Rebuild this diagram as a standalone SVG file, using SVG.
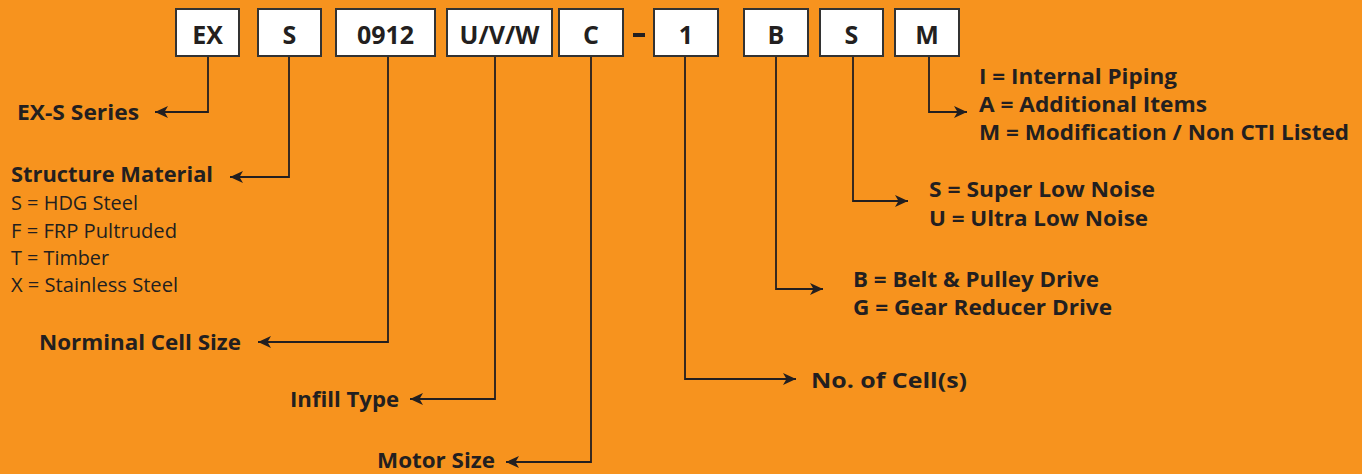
<svg xmlns="http://www.w3.org/2000/svg" width="1362" height="474" viewBox="0 0 1362 474">
<defs>
<style>
.box{fill:#fff;stroke:#333;stroke-width:2}
.bt{font-family:"Open Sans","Noto Sans",sans-serif;font-weight:700;font-size:25px;fill:#231f20;text-anchor:middle}
.lb{font-family:"Open Sans","Noto Sans",sans-serif;font-weight:700;font-size:22px;fill:#231f20}
.lr{font-family:"Open Sans","Noto Sans",sans-serif;font-weight:400;font-size:20px;fill:#231f20}
.cn{fill:none;stroke:#231f20;stroke-width:1.8;marker-end:url(#ah)}
</style>
<marker id="ah" markerUnits="userSpaceOnUse" markerWidth="14" markerHeight="12" refX="13" refY="6" orient="auto">
<path d="M0,0 L13,6 L0,12 L3.5,6 z" fill="#231f20"/>
</marker>
</defs>
<rect width="1362" height="474" fill="#f7931e"/>
<g id="box-ex"><rect class="box" x="176" y="9" width="63" height="47"/><text class="bt" x="207.5" y="44">EX</text></g>
<g id="box-s"><rect class="box" x="258" y="9" width="63" height="47"/><text class="bt" x="289.5" y="44">S</text></g>
<g id="box-0912"><rect class="box" x="336" y="9" width="99" height="47"/><text class="bt" x="385.5" y="44">0912</text></g>
<g id="box-uvw"><rect class="box" x="447" y="9" width="105" height="47"/><text class="bt" x="499.5" y="44">U/V/W</text></g>
<g id="box-c"><rect class="box" x="559" y="9" width="64" height="47"/><text class="bt" x="591" y="44">C</text></g>
<g id="dash"><rect x="633" y="33" width="12" height="4" fill="#231f20"/></g>
<g id="box-1"><rect class="box" x="654" y="9" width="64" height="47"/><text class="bt" x="686" y="44">1</text></g>
<g id="box-b"><rect class="box" x="744" y="9" width="64" height="47"/><text class="bt" x="776" y="44">B</text></g>
<g id="box-s2"><rect class="box" x="820" y="9" width="63" height="47"/><text class="bt" x="851.5" y="44">S</text></g>
<g id="box-m"><rect class="box" x="895" y="9" width="64" height="47"/><text class="bt" x="927" y="44">M</text></g>
<g id="connectors">
<polyline class="cn" points="208,57 208,112 155,112"/>
<polyline class="cn" points="289,57 289,177 230,177"/>
<polyline class="cn" points="388,57 388,342 258,342"/>
<polyline class="cn" points="495,57 495,399 410,399"/>
<polyline class="cn" points="591,57 591,462 506,462"/>
<polyline class="cn" points="685,57 685,379 796,379"/>
<polyline class="cn" points="776,57 776,289 823,289"/>
<polyline class="cn" points="853,57 853,201 908,201"/>
<polyline class="cn" points="929,57 929,112 967,112"/>
</g>
<g id="label-series"><text class="lb" x="17" y="120" textLength="122" lengthAdjust="spacingAndGlyphs">EX-S Series</text></g>
<g id="label-structure">
<text class="lb" x="11" y="182" textLength="202" lengthAdjust="spacingAndGlyphs">Structure Material</text>
<text class="lr" x="11" y="210" textLength="127" lengthAdjust="spacingAndGlyphs">S = HDG Steel</text>
<text class="lr" x="11" y="238" textLength="166" lengthAdjust="spacingAndGlyphs">F = FRP Pultruded</text>
<text class="lr" x="11" y="265" textLength="98" lengthAdjust="spacingAndGlyphs">T = Timber</text>
<text class="lr" x="11" y="292" textLength="167" lengthAdjust="spacingAndGlyphs">X = Stainless Steel</text>
</g>
<g id="label-cellsize"><text class="lb" x="39" y="350" textLength="202" lengthAdjust="spacingAndGlyphs">Norminal Cell Size</text></g>
<g id="label-infill"><text class="lb" x="290" y="407" textLength="109" lengthAdjust="spacingAndGlyphs">Infill Type</text></g>
<g id="label-motor"><text class="lb" x="377" y="468" textLength="118" lengthAdjust="spacingAndGlyphs">Motor Size</text></g>
<g id="label-cells"><text class="lb" x="811" y="388" textLength="156" lengthAdjust="spacingAndGlyphs">No. of Cell(s)</text></g>
<g id="label-drive">
<text class="lb" x="853" y="287" textLength="246" lengthAdjust="spacingAndGlyphs">B = Belt &amp; Pulley Drive</text>
<text class="lb" x="853" y="315" textLength="259" lengthAdjust="spacingAndGlyphs">G = Gear Reducer Drive</text>
</g>
<g id="label-noise">
<text class="lb" x="929" y="197" textLength="226" lengthAdjust="spacingAndGlyphs">S = Super Low Noise</text>
<text class="lb" x="929" y="226" textLength="219" lengthAdjust="spacingAndGlyphs">U = Ultra Low Noise</text>
</g>
<g id="label-options">
<text class="lb" x="979" y="84" textLength="198" lengthAdjust="spacingAndGlyphs">I = Internal Piping</text>
<text class="lb" x="979" y="112" textLength="228" lengthAdjust="spacingAndGlyphs">A = Additional Items</text>
<text class="lb" x="979" y="140" textLength="370" lengthAdjust="spacingAndGlyphs">M = Modification / Non CTI Listed</text>
</g>
</svg>
